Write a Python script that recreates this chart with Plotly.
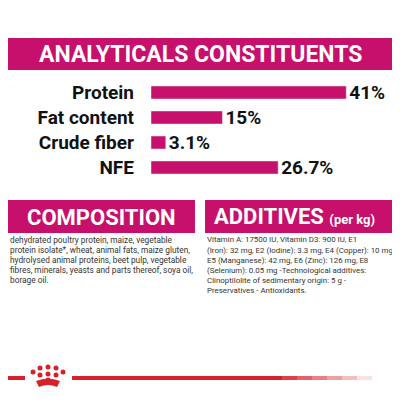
import plotly.graph_objects as go

categories = ["Protein", "Fat content", "Crude fiber", "NFE"]
values = [41, 15, 3.1, 26.7]
value_labels = ["41%", "15%", "3.1%", "26.7%"]
comp_lines = ["dehydrated poultry protein, maize, vegetable",
              "protein isolate*, wheat, animal fats, maize gluten,",
              "hydrolysed animal proteins, beet pulp, vegetable",
              "fibres, minerals, yeasts and parts thereof, soya oil,",
              "borage oil."]
add_lines = ["Vitamin A: 17500 IU, Vitamin D3: 900 IU, E1",
             "(Iron): 32 mg, E2 (Iodine): 3.3 mg, E4 (Copper): 10 mg,",
             "E5 (Manganese): 42 mg, E6 (Zinc): 126 mg, E8",
             "(Selenium): 0.05 mg -Technological additives:",
             "Clinoptilolite of sedimentary origin: 5 g -",
             "Preservatives - Antioxidants."]

MAG = "#C6106B"
W = H = 400
OFF = 8  # page body margin
def py(p): return 1 - (p - OFF) / H
def px(p): return (p - OFF) / W

fig = go.Figure(go.Bar(
    x=values, y=categories, orientation="h", marker_color=MAG, width=0.52,
    text=value_labels, textposition="outside", cliponaxis=False, constraintext="none",
    textfont=dict(family="Roboto", size=19, color="#111"), hoverinfo="skip"))

shapes = [
    dict(type="rect", xref="paper", yref="paper", x0=px(8), x1=px(392), y0=py(70), y1=py(38), fillcolor=MAG, line_width=0),
    dict(type="rect", xref="paper", yref="paper", x0=px(8), x1=px(195), y0=py(233), y1=py(200), fillcolor=MAG, line_width=0),
    dict(type="rect", xref="paper", yref="paper", x0=px(205), x1=px(392), y0=py(233), y1=py(200), fillcolor=MAG, line_width=0),
    dict(type="rect", xref="paper", yref="paper", x0=px(0), x1=px(25), y0=py(380), y1=py(376), fillcolor="#D8202A", line_width=0),
]
for i in range(20):
    x0 = 72 + i * 15
    a = 1 if i < 14 else 1 - (i - 13) / 7
    shapes.append(dict(type="rect", xref="paper", yref="paper", x0=px(x0), x1=px(x0 + 15), y0=py(380), y1=py(376),
                       fillcolor=f"rgba(216,32,42,{a:.2f})", line_width=0))
for cx, cy in [(33, 372), (40, 368), (48, 367), (56, 368), (63, 372), (40, 375), (48, 374), (56, 375), (48, 380)]:
    shapes.append(dict(type="circle", xref="paper", yref="paper", x0=px(cx - 2.5), x1=px(cx + 2.5), y0=py(cy + 2.5), y1=py(cy - 2.5),
                       fillcolor="#D8202A", line_width=0))
shapes.append(dict(type="path", xref="paper", yref="paper",
                   path=f"M {px(36)},{py(381)} Q {px(48)},{py(376)} {px(60)},{py(381)} L {px(57)},{py(387)} Q {px(48)},{py(383)} {px(39)},{py(387)} Z",
                   fillcolor="#D8202A", line_width=0))

ann = [
    dict(x=px(200), y=py(55), text="<b>ANALYTICALS CONSTITUENTS</b>", font=dict(family="Roboto", size=23, color="white")),
    dict(x=px(101), y=py(217), text="<b>COMPOSITION</b>", font=dict(family="Roboto", size=22, color="white")),
    dict(x=px(212), y=py(216), xanchor="left", text="<b>ADDITIVES</b> <b><span style='font-size:13px'>(per kg)</span></b>",
         font=dict(family="Roboto", size=22, color="white")),
]
for i, t in enumerate(comp_lines):
    ann.append(dict(x=px(8), y=py(240 + 10 * i), xanchor="left", text=t, font=dict(family="Roboto", size=8.3, color="#333")))
for i, t in enumerate(add_lines):
    ann.append(dict(x=px(205), y=py(240 + 10 * i), xanchor="left", text=t, font=dict(family="Roboto", size=7.9, color="#333")))
for a in ann:
    a.update(xref="paper", yref="paper", showarrow=False, yanchor="middle")
    a.setdefault("xanchor", "center")

fig.update_layout(
    width=W, height=H, margin=dict(l=0, r=0, t=0, b=0), paper_bgcolor="white", plot_bgcolor="white",
    showlegend=False, shapes=shapes, annotations=ann,
    xaxis=dict(domain=[px(151), px(391)], range=[0, 50.4], visible=False, fixedrange=True),
    yaxis=dict(domain=[py(180), py(80)], range=[3.5, -0.5], showgrid=False, zeroline=False, showline=False,
               ticks="", ticklabelstandoff=16,
               tickfont=dict(family="Roboto", size=19, color="#111"), fixedrange=True),
)
fig.update_yaxes(tickvals=categories, ticktext=[f"<b>{c}</b>" for c in categories])
fig.update_traces(texttemplate="<b>%{text}</b>")
fig.write_html("out.html")
